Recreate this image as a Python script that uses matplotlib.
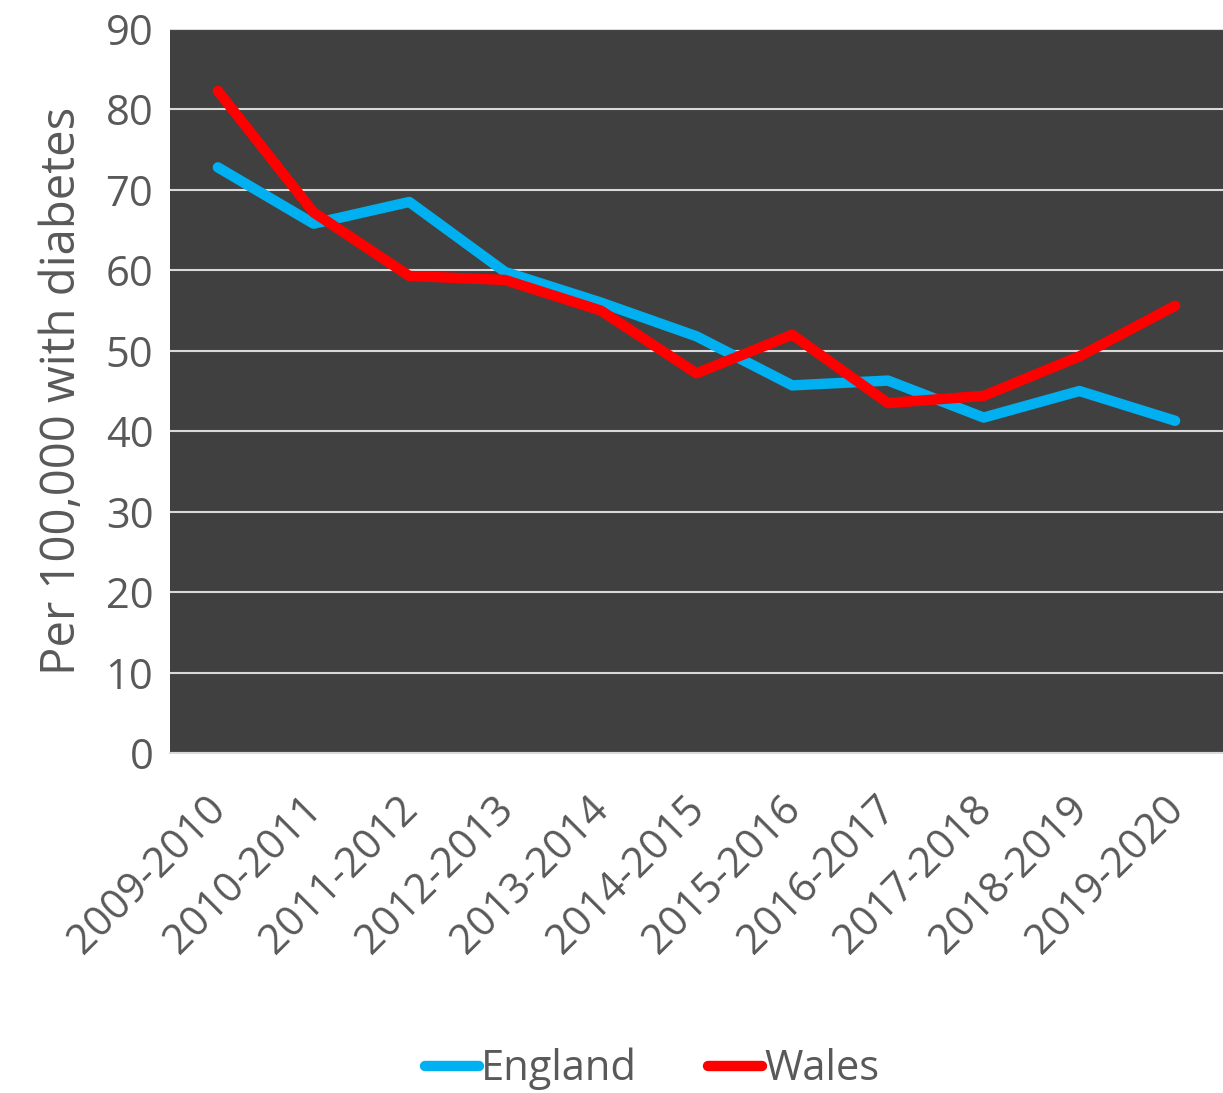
import matplotlib.pyplot as plt
import matplotlib.transforms as mtransforms
import numpy as np

years = ['2009-2010', '2010-2011', '2011-2012', '2012-2013', '2013-2014', '2014-2015',
         '2015-2016', '2016-2017', '2017-2018', '2018-2019', '2019-2020']
england = [72.8, 65.8, 68.5, 59.8, 56.0, 51.8, 45.7, 46.3, 41.7, 45.0, 41.3]
wales = [82.3, 67.2, 59.3, 58.8, 55.0, 47.2, 52.0, 43.5, 44.4, 49.3, 55.6]

plt.rcParams['font.family'] = ['Open Sans', 'DejaVu Sans']
txt = '#595959'

fig = plt.figure(figsize=(12.23, 10.93), dpi=100)
ax = fig.add_axes([0.139, 0.311, 0.861, 0.6625])
ax.set_facecolor('#404040')

x = np.arange(len(years))
ax.plot(x, england, color='#00b0f0', lw=7.5, solid_capstyle='round', solid_joinstyle='round', label='England')
ax.plot(x, wales, color='#ff0000', lw=7.5, solid_capstyle='round', solid_joinstyle='round', label='Wales')

ax.set_ylim(0, 90)
ax.set_xlim(-0.5, len(years) - 0.5)
ax.set_yticks(range(0, 91, 10))
ax.yaxis.grid(True, color='#d9d9d9', lw=1.5)
ax.set_axisbelow(True)
for s in ['left', 'right', 'top']:
    ax.spines[s].set_visible(False)
ax.spines['bottom'].set_color('#d9d9d9')
ax.spines['bottom'].set_linewidth(1.5)
ax.tick_params(length=0, colors=txt, labelsize=30)
ax.tick_params(axis='y', pad=12)
ax.set_xticks(x)
ax.set_xticklabels(years, rotation=45, ha='right', rotation_mode='anchor', fontsize=30)
ax.tick_params(axis='x', pad=25)
shift = mtransforms.ScaledTranslation(-13 / 100, 0, fig.dpi_scale_trans)
for lab in ax.get_xticklabels():
    lab.set_transform(lab.get_transform() + shift)
ax.set_ylabel('Per 100,000 with diabetes', fontsize=34, color=txt, labelpad=14)

leg = fig.legend(loc='center', bbox_to_anchor=(0.533, 0.022), ncol=2, frameon=False,
                 fontsize=30, handlelength=1.3, handletextpad=0.05, columnspacing=1.7)
for t in leg.get_texts():
    t.set_color(txt)

fig.savefig('out.png', dpi=100)
